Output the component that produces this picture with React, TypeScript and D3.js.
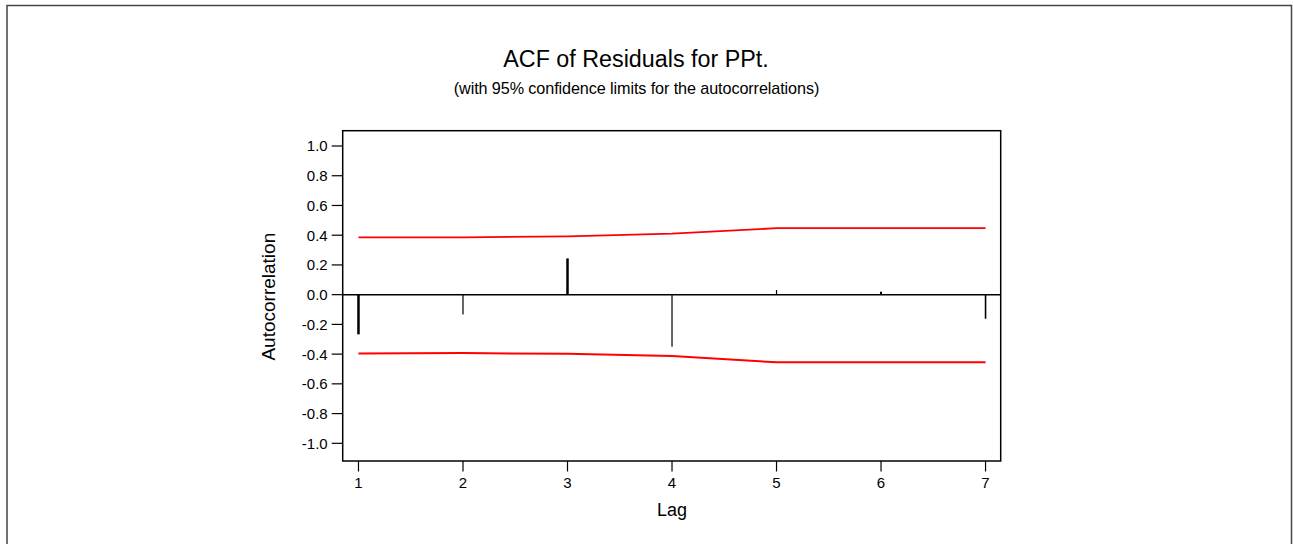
import React from "react";
import * as d3 from "d3";

const lags = [1, 2, 3, 4, 5, 6, 7];
const acfValues = [-0.267, -0.133, 0.244, -0.351, 0.031, 0.02, -0.162];
const upperLimits = [0.385, 0.386, 0.392, 0.41, 0.447, 0.447, 0.447];
const lowerLimits = [-0.395, -0.393, -0.398, -0.413, -0.455, -0.455, -0.455];
const yTicks = [1.0, 0.8, 0.6, 0.4, 0.2, 0.0, -0.2, -0.4, -0.6, -0.8, -1.0];
const xTicks = [1, 2, 3, 4, 5, 6, 7];
const barWidths = [2.5, 1.2, 2.5, 1.2, 1.2, 2, 1.6];

const W = 1293;
const H = 544;
const FONT = "Arial, 'Liberation Sans', Helvetica, sans-serif";

export default function App() {
  const left = 342.7;
  const right = 1000.7;
  const top = 130.7;
  const bottom = 461;

  const x = d3.scaleLinear().domain([0.849, 7.145]).range([left, right]);
  const y = d3.scaleLinear().domain([-1.119, 1.103]).range([bottom, top]);

  const upperLine = d3
    .line<number>()
    .x((_, i) => x(lags[i]))
    .y((d) => y(d))(upperLimits) as string;
  const lowerLine = d3
    .line<number>()
    .x((_, i) => x(lags[i]))
    .y((d) => y(d))(lowerLimits) as string;

  return (
    <svg
      width={W}
      height={H}
      style={{ position: "absolute", left: 0, top: 0, background: "#fff" }}
      fontFamily={FONT}
    >
      {/* outer frame */}
      <rect x={7} y={5.5} width={1284.5} height={560} fill="none" stroke="#444" strokeWidth={1.5} />

      {/* titles */}
      <text x={636} y={67} textAnchor="middle" fontSize={23.3} fill="#000">
        ACF of Residuals for PPt.
      </text>
      <text x={636.5} y={93.5} textAnchor="middle" fontSize={16.2} fill="#000" letterSpacing={-0.1}>
        (with 95% confidence limits for the autocorrelations)
      </text>

      {/* plot frame */}
      <rect x={left} y={top} width={right - left} height={bottom - top} fill="none" stroke="#000" strokeWidth={1.5} />

      {/* zero line */}
      <line x1={left} x2={right} y1={y(0)} y2={y(0)} stroke="#000" strokeWidth={1.5} />

      {/* y axis ticks */}
      {yTicks.map((t) => (
        <g key={"y" + t}>
          <line x1={left - 11} x2={left} y1={y(t)} y2={y(t)} stroke="#000" strokeWidth={1.2} />
          <text x={left - 15} y={y(t)} dy="0.36em" textAnchor="end" fontSize={15} fill="#000">
            {t.toFixed(1)}
          </text>
        </g>
      ))}

      {/* x axis ticks */}
      {xTicks.map((t) => (
        <g key={"x" + t}>
          <line x1={x(t)} x2={x(t)} y1={bottom} y2={bottom + 10.5} stroke="#000" strokeWidth={1.2} />
          <text x={x(t)} y={487.5} textAnchor="middle" fontSize={15} fill="#000">
            {t}
          </text>
        </g>
      ))}

      {/* confidence limits */}
      <path d={upperLine} fill="none" stroke="#ff0000" strokeWidth={1.8} />
      <path d={lowerLine} fill="none" stroke="#ff0000" strokeWidth={2} />

      {/* ACF bars */}
      {acfValues.map((v, i) => (
        <line
          key={"b" + i}
          x1={x(lags[i])}
          x2={x(lags[i])}
          y1={y(0)}
          y2={y(v)}
          stroke="#000"
          strokeWidth={barWidths[i]}
        />
      ))}

      {/* axis titles */}
      <text x={672} y={516} textAnchor="middle" fontSize={18} fill="#000">
        Lag
      </text>
      <text
        transform={`translate(275, ${296.7}) rotate(-90)`}
        textAnchor="middle"
        fontSize={19}
        fill="#000"
      >
        Autocorrelation
      </text>
    </svg>
  );
}
